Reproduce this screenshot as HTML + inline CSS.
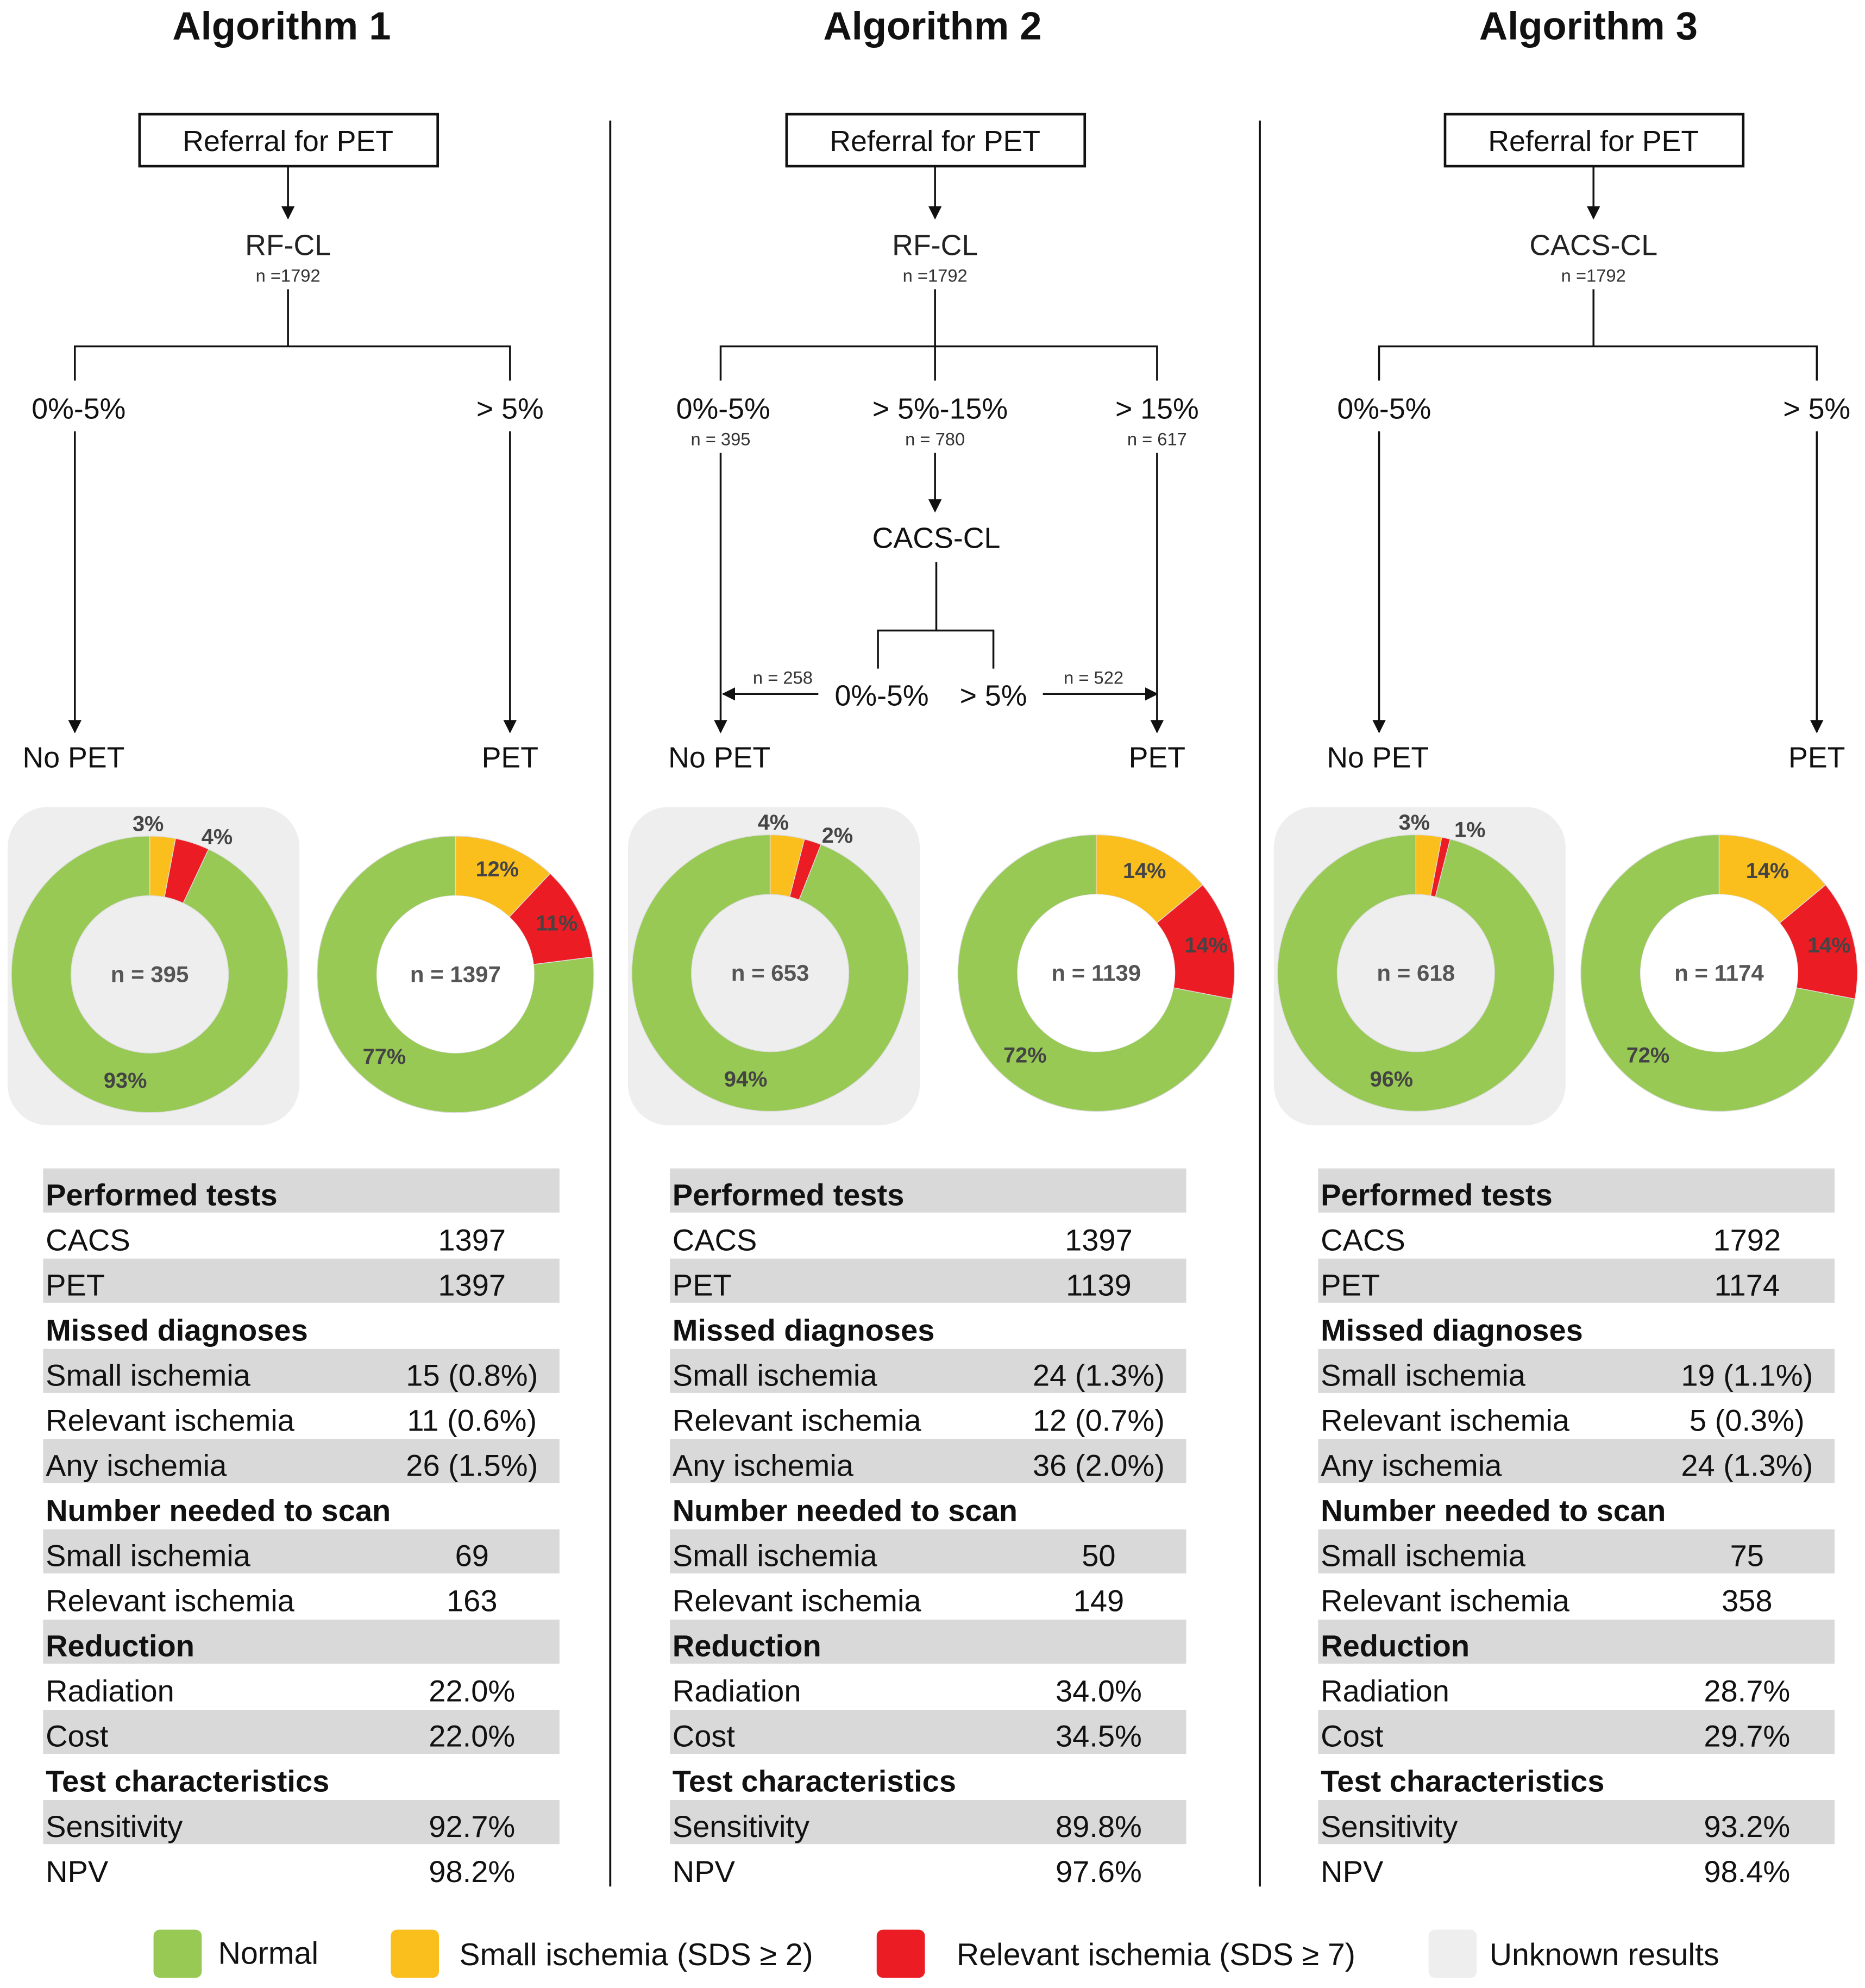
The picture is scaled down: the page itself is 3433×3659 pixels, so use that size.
<!DOCTYPE html>
<html><head><meta charset="utf-8">
<style>
html,body{margin:0;padding:0;background:#fff;}
svg{display:block;font-family:"Liberation Sans",Arial,sans-serif;}
</style></head>
<body>
<svg id="root" width="3433" height="3659" viewBox="0 0 1470 1567" preserveAspectRatio="none" xmlns="http://www.w3.org/2000/svg">
<defs>
<marker id="ah" viewBox="0 0 10 10" refX="9" refY="5" markerWidth="7" markerHeight="7" orient="auto-start-reverse"><path d="M0,0 L10,5 L0,10 z" fill="#111"/></marker>
</defs>
<g id="titles" font-weight="bold" font-size="31" text-anchor="middle" fill="#111">
<text x="222" y="31">Algorithm 1</text>
<text x="735" y="31">Algorithm 2</text>
<text x="1252" y="31">Algorithm 3</text>
</g>
<g stroke="#111" stroke-width="1.6">
<line x1="481" y1="95" x2="481" y2="1487"/>
<line x1="993" y1="95" x2="993" y2="1487"/>
</g>
<g stroke="#111" stroke-width="1.5" fill="none">
<rect x="110" y="90" width="235" height="41" stroke-width="2"/>
<line x1="227" y1="131" x2="227" y2="172" marker-end="url(#ah)"/>
<polyline points="227,228 227,273"/><polyline points="59,300 59,273 402,273 402,300"/>
<line x1="59" y1="340" x2="59" y2="577" marker-end="url(#ah)"/>
<line x1="402" y1="340" x2="402" y2="577" marker-end="url(#ah)"/>
<rect x="620" y="90" width="235" height="41" stroke-width="2"/>
<line x1="737" y1="131" x2="737" y2="172" marker-end="url(#ah)"/>
<polyline points="737,228 737,300"/><polyline points="568,300 568,273 912,273 912,300"/>
<line x1="737" y1="357" x2="737" y2="403" marker-end="url(#ah)"/>
<polyline points="738,443 738,497"/><polyline points="692,527 692,497 783,497 783,527"/>
<line x1="645" y1="547" x2="570" y2="547" marker-end="url(#ah)"/>
<line x1="822" y1="547" x2="912" y2="547" marker-end="url(#ah)"/>
<line x1="568" y1="357" x2="568" y2="577" marker-end="url(#ah)"/>
<line x1="912" y1="357" x2="912" y2="577" marker-end="url(#ah)"/>
<rect x="1139" y="90" width="235" height="41" stroke-width="2"/>
<line x1="1256" y1="131" x2="1256" y2="172" marker-end="url(#ah)"/>
<polyline points="1256,228 1256,273"/><polyline points="1087,300 1087,273 1432,273 1432,300"/>
<line x1="1087" y1="340" x2="1087" y2="577" marker-end="url(#ah)"/>
<line x1="1432" y1="340" x2="1432" y2="577" marker-end="url(#ah)"/>
</g>
<g fill="#111" text-anchor="middle" font-size="23">
<text x="227" y="119">Referral for PET</text>
<text x="737" y="119">Referral for PET</text>
<text x="1256" y="119">Referral for PET</text>
<text x="227" y="201" fill="#222">RF-CL</text>
<text x="737" y="201" fill="#222">RF-CL</text>
<text x="1256" y="201" fill="#222">CACS-CL</text>
<text x="227" y="222" font-size="14" fill="#333">n =1792</text>
<text x="737" y="222" font-size="14" fill="#333">n =1792</text>
<text x="1256" y="222" font-size="14" fill="#333">n =1792</text>
<text x="62" y="330">0%-5%</text><text x="402" y="330">&gt; 5%</text>
<text x="570" y="330">0%-5%</text><text x="741" y="330">&gt; 5%-15%</text><text x="912" y="330">&gt; 15%</text>
<text x="568" y="351" font-size="14" fill="#333">n = 395</text>
<text x="737" y="351" font-size="14" fill="#333">n = 780</text>
<text x="912" y="351" font-size="14" fill="#333">n = 617</text>
<text x="738" y="432">CACS-CL</text>
<text x="617" y="539" font-size="14" fill="#333">n = 258</text>
<text x="862" y="539" font-size="14" fill="#333">n = 522</text>
<text x="695" y="556">0%-5%</text><text x="783" y="556">&gt; 5%</text>
<text x="1091" y="330">0%-5%</text><text x="1432" y="330">&gt; 5%</text>
<text x="58" y="605">No PET</text><text x="402" y="605">PET</text>
<text x="567" y="605">No PET</text><text x="912" y="605">PET</text>
<text x="1086" y="605">No PET</text><text x="1432" y="605">PET</text>
</g>
<g id="donuts"></g>
<g id="tables"></g>
<g font-size="24.5" fill="#111">
<rect x="121" y="1521" width="38" height="38" rx="5" fill="#97c954"/>
<text x="172" y="1548">Normal</text>
<rect x="308" y="1521" width="38" height="38" rx="5" fill="#fbbf1d"/>
<text x="362" y="1549">Small ischemia (SDS ≥ 2)</text>
<rect x="691" y="1521" width="38" height="38" rx="5" fill="#ec1c24"/>
<text x="754" y="1549">Relevant ischemia (SDS ≥ 7)</text>
<rect x="1126" y="1521" width="38" height="38" rx="5" fill="#eeeeef"/>
<text x="1174" y="1549">Unknown results</text>
</g>
</svg>
<script>
var donutNames = ['alg1-no-pet','alg1-pet','alg2-no-pet','alg2-pet','alg3-no-pet','alg3-pet'];
var donutN = [395, 1397, 653, 1139, 618, 1174];
var smallPct = [3, 12, 4, 14, 3, 14];
var relevantPct = [4, 11, 2, 14, 1, 14];
var normalPct = [93, 77, 94, 72, 96, 72];
var donutUnknown = [true, false, true, false, true, false];
var donutCx = [118, 359, 607, 864, 1116, 1355];
var donutCy = [768, 768, 767, 767, 767, 767];

var rowLabels = ['Performed tests','CACS','PET','Missed diagnoses','Small ischemia','Relevant ischemia','Any ischemia','Number needed to scan','Small ischemia','Relevant ischemia','Reduction','Radiation','Cost','Test characteristics','Sensitivity','NPV'];
var rowHeader = [1,0,0,1,0,0,0,1,0,0,1,0,0,1,0,0];
var alg1Values = ['','1397','1397','','15 (0.8%)','11 (0.6%)','26 (1.5%)','','69','163','','22.0%','22.0%','','92.7%','98.2%'];
var alg2Values = ['','1397','1139','','24 (1.3%)','12 (0.7%)','36 (2.0%)','','50','149','','34.0%','34.5%','','89.8%','97.6%'];
var alg3Values = ['','1792','1174','','19 (1.1%)','5 (0.3%)','24 (1.3%)','','75','358','','28.7%','29.7%','','93.2%','98.4%'];
var tableX = [34, 528, 1039];

var NS='http://www.w3.org/2000/svg';
function mk(tag, attrs, parent){var e=document.createElementNS(NS,tag);for(var k in attrs)e.setAttribute(k,attrs[k]);parent.appendChild(e);return e;}
function pt(cx,cy,r,a){var t=(a-90)*Math.PI/180;return [cx+r*Math.cos(t),cy+r*Math.sin(t)];}
function arc(cx,cy,R,r,a0,a1){
  var large=(a1-a0)>180?1:0;
  var p0=pt(cx,cy,R,a0),p1=pt(cx,cy,R,a1),q1=pt(cx,cy,r,a1),q0=pt(cx,cy,r,a0);
  return 'M'+p0+' A'+R+','+R+' 0 '+large+' 1 '+p1+' L'+q1+' A'+r+','+r+' 0 '+large+' 0 '+q0+' Z';
}
var dg=document.getElementById('donuts');
for(var i=0;i<donutN.length;i++){
  var cx=donutCx[i], cy=donutCy[i], R=109, r=62;
  var g=mk('g',{},dg);
  
  
  if(donutUnknown[i]){
    var bg=mk('rect',{x:cx-112,y:636,width:230,height:251,rx:32,fill:'#eeeeef'},g);
    
    
  }
  var vals=[smallPct[i],relevantPct[i],normalPct[i]];
  var cols=['#fbbf1d','#ec1c24','#97c954'];
  var names=['small-ischemia','relevant-ischemia','normal'];
  var tot=vals[0]+vals[1]+vals[2];
  var a=0;
  for(var j=0;j<3;j++){
    var sw=vals[j]/tot*360;
    var p=mk('path',{d:arc(cx,cy,R,r,a,a+sw),fill:cols[j],stroke:'#ddd','stroke-width':0.6},g);
    
    
    var la, lr;
    if(j==2){la=donutUnknown[i]?193:221; lr=(R+r)/2;}
    else if(vals[j]<6){la=a+sw/2+(j==0?-6:8); lr=R+10+(j==0?0:2);}
    else {la=a+sw/2; lr=(R+r)/2+4;}
    var lp=pt(cx,cy,lr,la);
    var t=mk('text',{x:lp[0],y:lp[1]+6,'text-anchor':'middle','font-size':17,'font-weight':'bold',fill:'#444'},g);
    t.textContent=vals[j]+'%';
    
    
    a+=sw;
  }
  if(!donutUnknown[i]){mk('circle',{cx:cx,cy:cy,r:r,fill:'#fff'},g);}
  var nt=mk('text',{x:cx,y:cy+6,'text-anchor':'middle','font-size':18,'font-weight':'bold',fill:'#555'},g);
  nt.textContent='n = '+donutN[i];
  
  
}
var tg=document.getElementById('tables');
var allVals=[alg1Values,alg2Values,alg3Values];
var rowH=35.56, top0=921;
for(var k=0;k<3;k++){
  var g=mk('g',{},tg);
  
  
  var x0=tableX[k];
  for(var j=0;j<rowLabels.length;j++){
    var y=top0+j*rowH;
    if(j%2==0){var rr=mk('rect',{x:x0,y:y,width:407,height:rowH-0.8,fill:'#d9d9d9'},g);
      
      }
    var t=mk('text',{x:x0+2,y:y+29,'font-size':24,fill:'#111','font-weight':rowHeader[j]?'bold':'normal'},g);
    t.textContent=rowLabels[j];
    
    
    if(allVals[k][j]){
      var v=mk('text',{x:x0+338,y:y+29,'font-size':24,fill:'#111','text-anchor':'middle'},g);
      v.textContent=allVals[k][j];
      
      
    }
  }
}
</script>
</body></html>
